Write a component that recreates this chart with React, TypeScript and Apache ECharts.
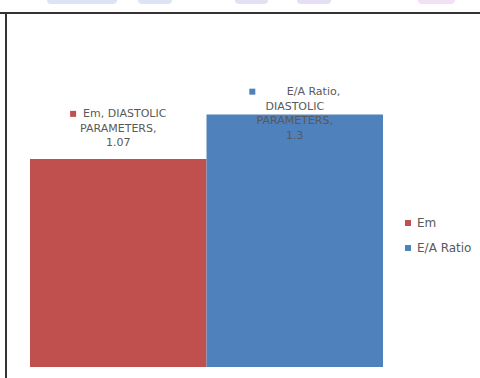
import React, { useEffect, useRef } from "react";
import * as echarts from "echarts";

const categories = ["DIASTOLIC PARAMETERS"];
const seriesNames = ["Em", "E/A Ratio"];
const emValues = [1.07];
const eaRatioValues = [1.3];
const colors = ["#C0504D", "#4F81BD"];

export default function App() {
  const ref = useRef<HTMLDivElement>(null);
  useEffect(() => {
    if (!ref.current) return;
    const chart = echarts.init(ref.current, undefined, { renderer: "svg" });
    const font = "DejaVu Sans";
    const [w1, w2] = categories[0].split(" ");
    const baseLabel = (i: number) => ({
      show: true,
      position: "top",
      fontFamily: font,
      fontSize: 11,
      color: "#595959",
      lineHeight: 14.5,
      align: "center",
      rich: {
        sq: { width: 6, height: 6, backgroundColor: colors[i] },
      },
    });
    chart.setOption({
      animation: false,
      backgroundColor: "#ffffff",
      grid: { left: 30, width: 353, top: 95, bottom: 11 },
      xAxis: { type: "category", data: categories, show: false },
      yAxis: { type: "value", min: 0, max: 1.4, show: false },
      legend: {
        orient: "vertical",
        left: 400,
        top: 212,
        icon: "rect",
        itemWidth: 6,
        itemHeight: 6,
        itemGap: 13,
        textStyle: { fontFamily: font, fontSize: 12, color: "#595959", padding: [0, 0, 0, 1] },
        data: seriesNames,
      },
      series: [
        {
          name: seriesNames[0],
          type: "bar",
          data: emValues,
          barGap: "0%",
          barCategoryGap: "0%",
          itemStyle: { color: colors[0] },
          label: {
            ...baseLabel(0),
            distance: 9,
            formatter: (p: any) => `{sq|}  ${p.seriesName}, ${w1}\n${w2},\n${p.value}`,
          },
        },
        {
          name: seriesNames[1],
          type: "bar",
          data: eaRatioValues,
          barGap: "0%",
          barCategoryGap: "0%",
          itemStyle: { color: colors[1] },
          label: {
            ...baseLabel(1),
            distance: 0,
            offset: [0, 28],
            formatter: (p: any) => `{sq|}         ${p.seriesName},\n${w1}\n${w2},\n${p.value}`,
          },
        },
      ],
      graphic: [
        { type: "rect", shape: { x: 47, y: -4, width: 70, height: 8, r: 4 }, style: { fill: "#dbe3f4" } },
        { type: "rect", shape: { x: 138, y: -4, width: 34, height: 8, r: 4 }, style: { fill: "#dbe3f4" } },
        { type: "rect", shape: { x: 235, y: -4, width: 33, height: 8, r: 4 }, style: { fill: "#e4e0f3" } },
        { type: "rect", shape: { x: 297, y: -4, width: 34, height: 8, r: 4 }, style: { fill: "#e6def4" } },
        { type: "rect", shape: { x: 418, y: -4, width: 37, height: 8, r: 4 }, style: { fill: "#f2e0f4" } },
        { type: "line", shape: { x1: 0, y1: 13, x2: 480, y2: 13 }, style: { stroke: "#333333", lineWidth: 2 } },
        { type: "line", shape: { x1: 6, y1: 12, x2: 6, y2: 378 }, style: { stroke: "#333333", lineWidth: 2 } },
      ],
    });
    return () => chart.dispose();
  }, []);
  return (
    <div
      ref={ref}
      style={{ width: 480, height: 378, position: "fixed", left: 0, top: 0 }}
    />
  );
}
